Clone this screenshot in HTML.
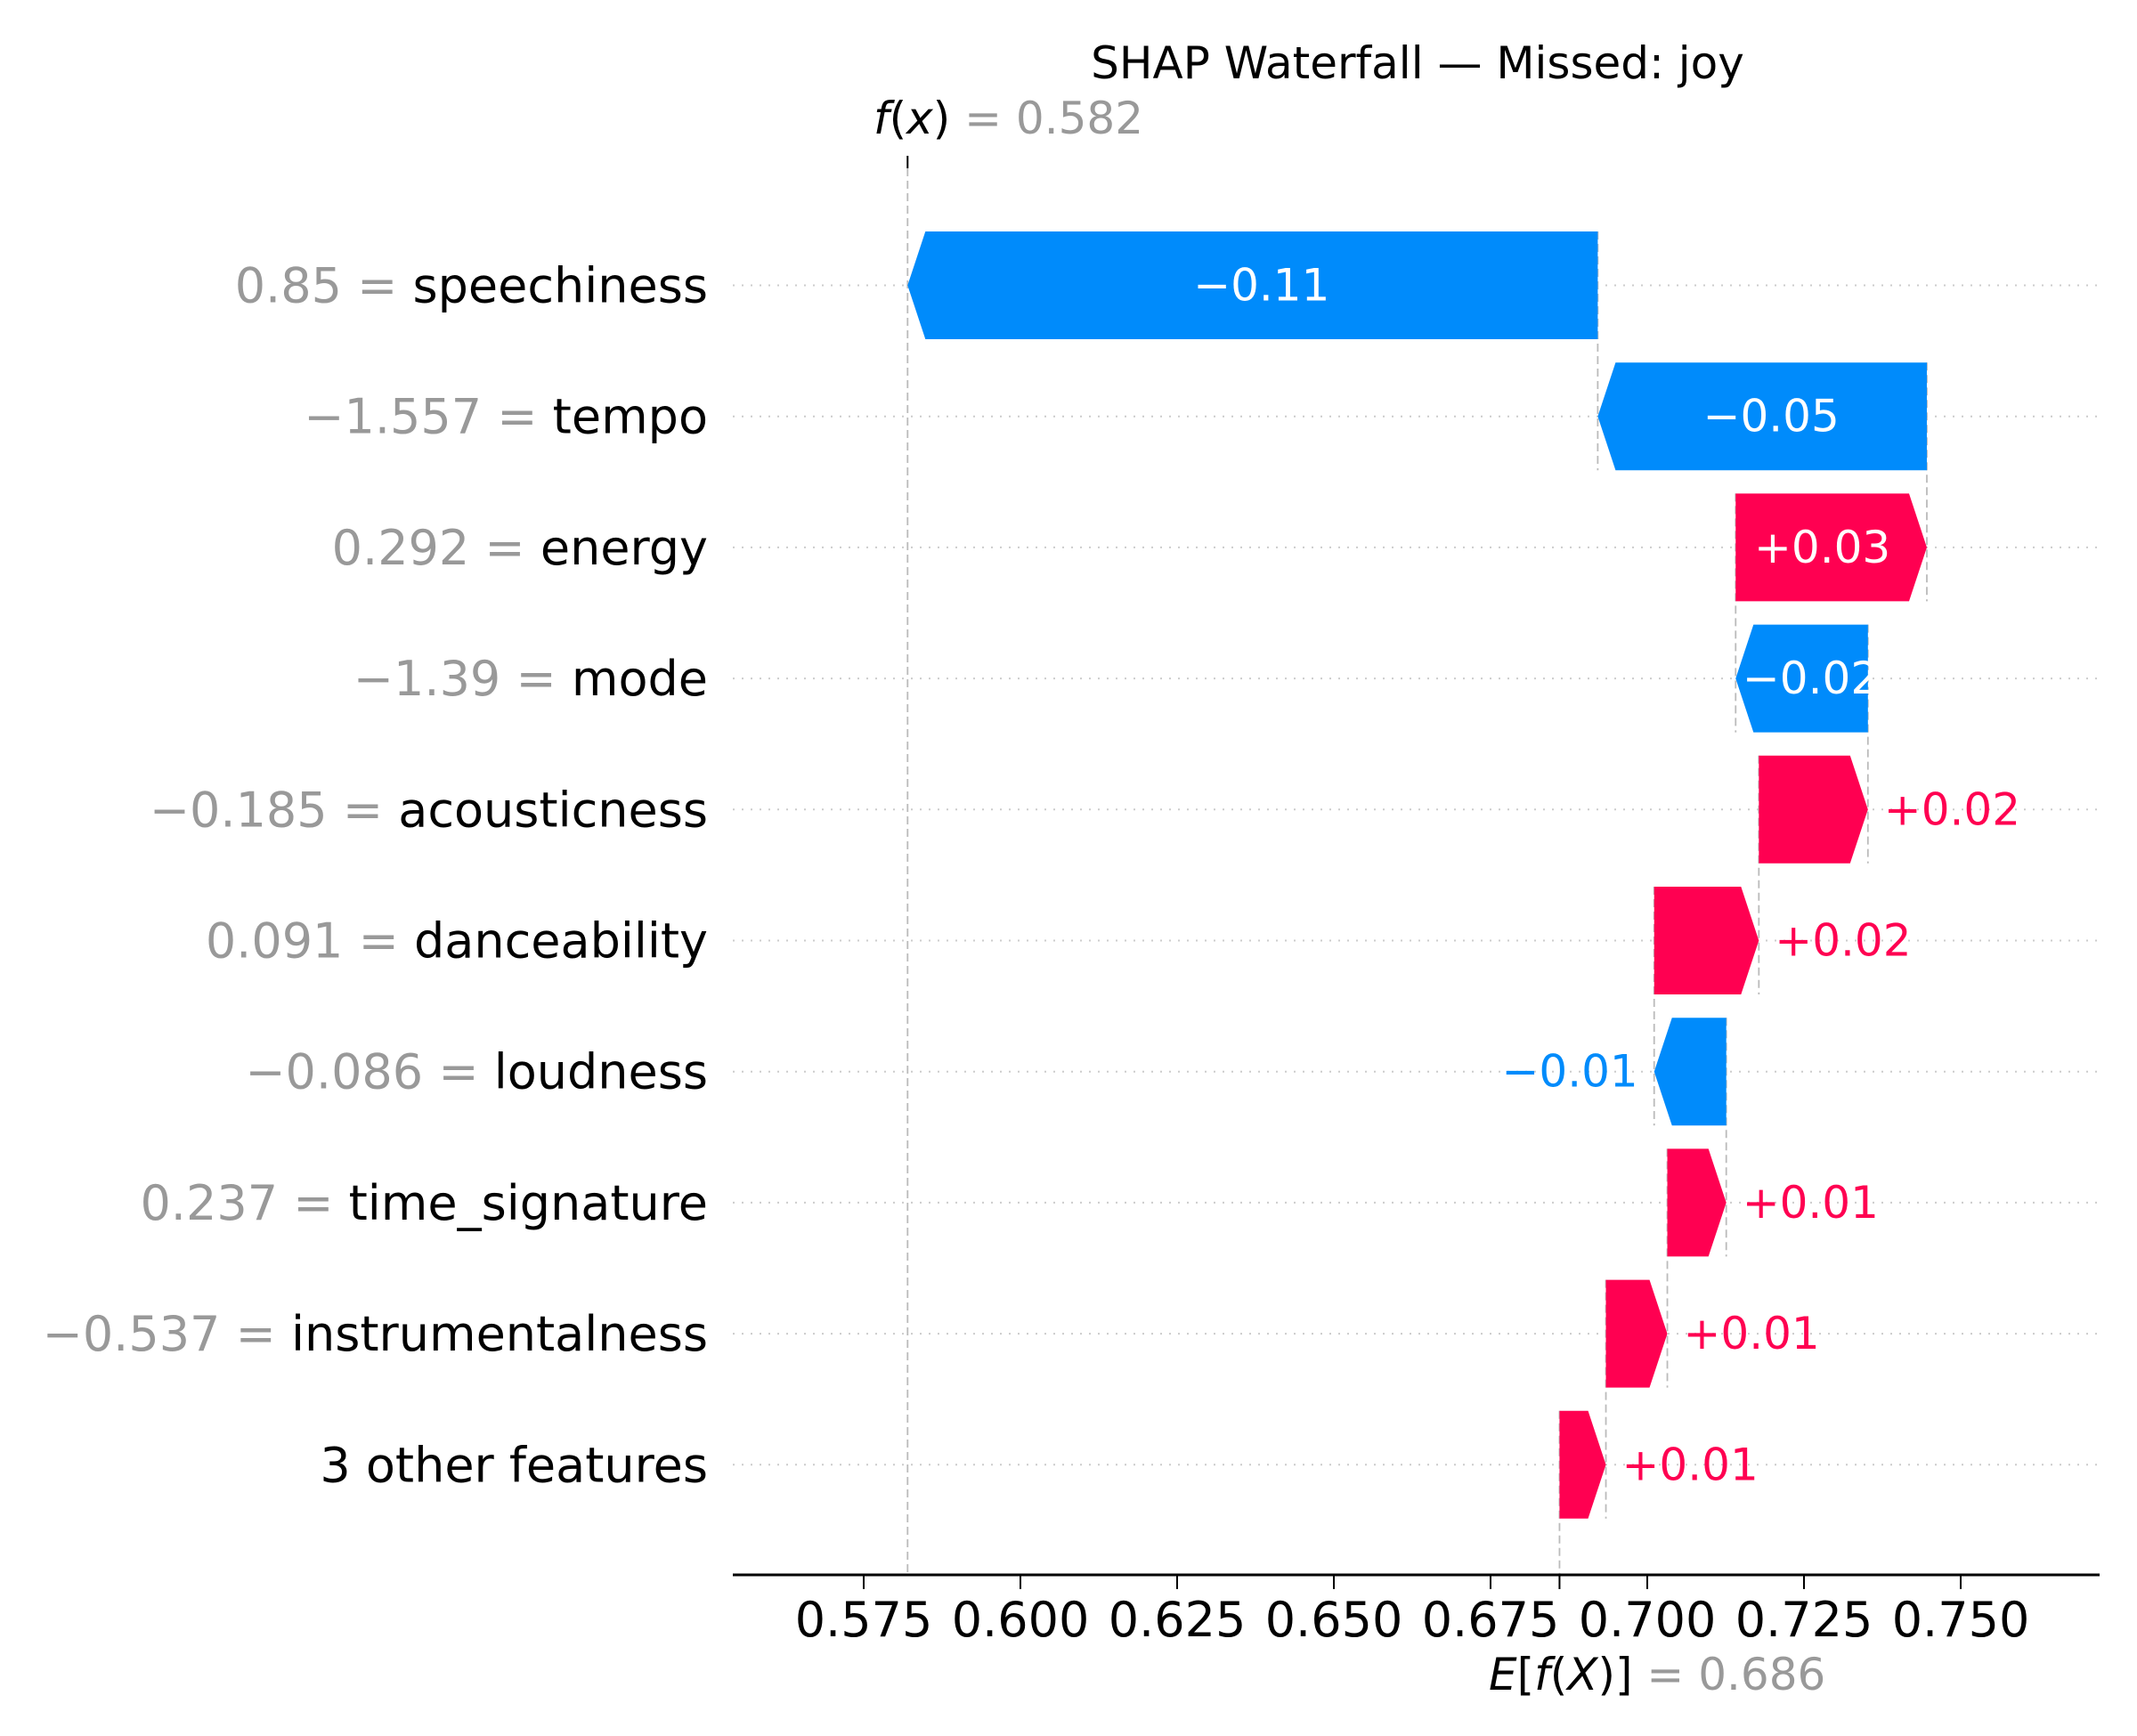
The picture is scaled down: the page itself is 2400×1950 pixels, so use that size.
<!DOCTYPE html>
<html><head><meta charset="utf-8"><style>
html,body{margin:0;padding:0;background:#fff;}
svg{display:block;font-family:"DejaVu Sans","Liberation Sans",sans-serif;}
</style></head><body>
<svg id="chart" width="2400" height="1950" viewBox="0 0 2400 1950" xmlns="http://www.w3.org/2000/svg">
<text x="1592" y="88" font-size="50" text-anchor="middle" fill="#000">SHAP Waterfall — Missed: joy</text>
<g id="grid"></g><g id="vlines"></g><g id="bars"></g><g id="labels"></g><g id="axis"></g>
</svg>
<script>
const features = ["speechiness","tempo","energy","mode","acousticness","danceability","loudness","time_signature","instrumentalness","3 other features"];
const featureValues = ["0.85","\u22121.557","0.292","\u22121.39","\u22120.185","0.091","\u22120.086","0.237","\u22120.537",""];
const shapValues = [-0.1101,-0.0525,0.0305,-0.0211,0.0174,0.0167,-0.0115,0.0094,0.0098,0.0074];
const barLabels = ["\u22120.11","\u22120.05","+0.03","\u22120.02","+0.02","+0.02","\u22120.01","+0.01","+0.01","+0.01"];
const baseValue = 0.686;
const fxValue = 0.582;
const tickValues = [0.575,0.600,0.625,0.650,0.675,0.700,0.725,0.750];
const tickLabels = ["0.575","0.600","0.625","0.650","0.675","0.700","0.725","0.750"];

const NS="http://www.w3.org/2000/svg";
const X0=970, XPU=7040, V0=0.575;
function xs(v){return X0+(v-V0)*XPU;}
function ys(i){return 320.5+i*147.2;}
const BH=121, HEAD=20, AX_Y=1769, AXL=823, AXR=2358;
const BLUE="#008bfb", RED="#ff0051";
function mk(tag,attrs,parent){const e=document.createElementNS(NS,tag);for(const k in attrs)e.setAttribute(k,attrs[k]);parent.appendChild(e);return e;}
const g=id=>document.getElementById(id);

const n=features.length;
const starts=new Array(n), ends=new Array(n);
let cur=baseValue;
for(let i=n-1;i>=0;i--){starts[i]=cur;cur+=shapValues[i];ends[i]=cur;}

for(let i=0;i<n;i++){
  const y=ys(i);
  const gl=mk('line',{x1:AXL,x2:AXR,y1:y,y2:y,stroke:'#cccccc','stroke-width':2,'stroke-dasharray':'2 8'},g('grid'));
  
  
  const yb = i<n-1 ? ys(i+1)+BH/2 : AX_Y;
  const vl=mk('line',{x1:xs(starts[i]),x2:xs(starts[i]),y1:y-BH/2,y2:yb,stroke:'#bbbbbb','stroke-width':1.8,'stroke-dasharray':'9 5'},g('vlines'));
  
  
}
const fl=mk('line',{x1:xs(fxValue),x2:xs(fxValue),y1:189,y2:AX_Y,stroke:'#bbbbbb','stroke-width':1.8,'stroke-dasharray':'9 5'},g('vlines'));



for(let i=0;i<n;i++){
  const y=ys(i), v=shapValues[i], a=xs(starts[i]), b=xs(ends[i]);
  const pos=v>0, w=Math.abs(b-a), h=Math.min(HEAD,w);
  let pts;
  if(pos){pts=[[a,y-BH/2],[b-h,y-BH/2],[b,y],[b-h,y+BH/2],[a,y+BH/2]];}
  else{pts=[[a,y-BH/2],[b+h,y-BH/2],[b,y],[b+h,y+BH/2],[a,y+BH/2]];}
  const p=mk('polygon',{points:pts.map(q=>q.join(',')).join(' '),fill:pos?RED:BLUE},g('bars'));
  
  
  const inside = w>140;
  let t;
  if(inside){
    t=mk('text',{x:(a+b)/2+(pos?-h/2:h/2),y:y+17,'font-size':50,'text-anchor':'middle',fill:'#fff'},g('labels'));
  } else if(pos){
    t=mk('text',{x:b+18,y:y+17,'font-size':50,'text-anchor':'start',fill:RED},g('labels'));
  } else {
    t=mk('text',{x:b-18,y:y+17,'font-size':50,'text-anchor':'end',fill:BLUE},g('labels'));
  }
  t.textContent=barLabels[i];
  
  
  const yl=mk('text',{x:795,y:y+19,'font-size':54,'text-anchor':'end'},g('labels'));
  if(featureValues[i]!==""){
    const s1=mk('tspan',{fill:'#999999'},yl);s1.textContent=featureValues[i]+" = ";
  }
  const s2=mk('tspan',{fill:'#000'},yl);s2.textContent=features[i];
  
  
}

const ax=mk('line',{x1:AXL,x2:AXR,y1:AX_Y,y2:AX_Y,stroke:'#000','stroke-width':3},g('axis'));


tickValues.forEach((v,k)=>{
  const tk=mk('line',{x1:xs(v),x2:xs(v),y1:AX_Y,y2:AX_Y+16,stroke:'#000','stroke-width':2},g('axis'));
  
  
  const tl=mk('text',{x:xs(v),y:1838,'font-size':54,'text-anchor':'middle',fill:'#000'},g('axis'));
  tl.textContent=tickLabels[k];
  
  
});
const et=mk('line',{x1:xs(baseValue),x2:xs(baseValue),y1:AX_Y,y2:AX_Y+16,stroke:'#000','stroke-width':2},g('axis'));


const el=mk('text',{x:1672,y:1898,'font-size':50,'text-anchor':'start'},g('axis'));
const e1=mk('tspan',{fill:'#000','font-style':'italic'},el);e1.textContent="E";
const e2=mk('tspan',{fill:'#000'},el);e2.textContent="[";
const e3=mk('tspan',{fill:'#000','font-style':'italic'},el);e3.textContent="f";
const e4=mk('tspan',{fill:'#000'},el);e4.textContent="(";
const e5=mk('tspan',{fill:'#000','font-style':'italic'},el);e5.textContent="X";
const e6=mk('tspan',{fill:'#000'},el);e6.textContent=")]";
const e7=mk('tspan',{fill:'#999999'},el);e7.textContent=" = "+baseValue.toFixed(3);



const ft=mk('line',{x1:xs(fxValue),x2:xs(fxValue),y1:175,y2:189,stroke:'#000','stroke-width':2},g('axis'));


const fxl=mk('text',{x:981,y:150,'font-size':50,'text-anchor':'start'},g('axis'));
const f1=mk('tspan',{fill:'#000','font-style':'italic'},fxl);f1.textContent="f";
const f2=mk('tspan',{fill:'#000'},fxl);f2.textContent="(";
const f3=mk('tspan',{fill:'#000','font-style':'italic'},fxl);f3.textContent="x";
const f4=mk('tspan',{fill:'#000'},fxl);f4.textContent=")";
const f5=mk('tspan',{fill:'#999999'},fxl);f5.textContent=" = "+fxValue.toFixed(3);


</script>
</body></html>
